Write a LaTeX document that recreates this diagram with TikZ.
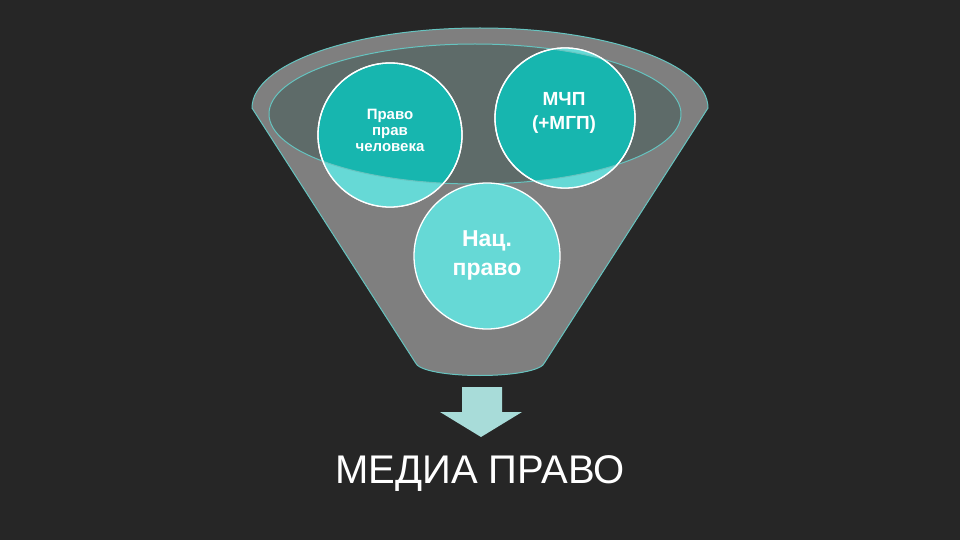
\documentclass[tikz,border=0pt]{standalone}
\usepackage{fontspec}
\setmainfont{Liberation Sans}
\begin{document}
\begin{tikzpicture}[x=1pt,y=-1pt,
  circ/.style={circle,fill=cd,draw=white,line width=1.3pt,minimum size=#1,inner sep=0pt},
  lbl/.style={text=white,align=center}]
\definecolor{bg}{HTML}{262626}
\definecolor{fun}{HTML}{7F7F7F}
\definecolor{rim}{HTML}{66C4C0}
\definecolor{cl}{HTML}{66D9D6}
\definecolor{cd}{HTML}{17B6AF}
\definecolor{inn}{HTML}{5E6B69}
\definecolor{arr}{HTML}{A8DCD9}
\fill[bg] (0,0) rectangle (960,540);
\useasboundingbox (0,0) rectangle (960,540);
% funnel body
\draw[fill=fun,draw=rim,line width=1pt] (252,108) arc[start angle=180,end angle=360,x radius=228,y radius=80]
  -- (545,362) .. controls (540,380) and (420,380) .. (415,362) -- cycle;
% inner ellipse
\fill[inn] (475,114) ellipse[x radius=206,y radius=70];
% circles
\node[circ=144pt] (l) at (390,135) {};
\node[circ=140pt] (r) at (565,118) {};
\begin{scope}[even odd rule]
\clip (0,0) rectangle (960,540) (475,114) ellipse[x radius=206,y radius=70];
\fill[cl] (l) circle[radius=72];
\fill[cl] (r) circle[radius=70];
\end{scope}
\draw[rim,line width=1pt] (475,114) ellipse[x radius=206,y radius=70];
\draw[white,line width=1.3pt] (l) circle[radius=72];
\draw[white,line width=1.3pt] (r) circle[radius=70];
\node[circ=146pt,fill=cl] (b) at (487,256) {};
% labels
\node[lbl,font=\bfseries\fontsize{15}{16}\selectfont] at (390,130) {Право\\прав\\человека};
\node[lbl,font=\bfseries\fontsize{19}{24}\selectfont] at (564,113) {МЧП\\(+МГП)};
\node[lbl,font=\bfseries\fontsize{23}{29}\selectfont] (bt) at (487,255) {Нац.\\право};
% arrow
\fill[arr] (462,387) -- (502,387) -- (502,412) -- (522,412) -- (481,437) -- (440,412) -- (462,412) -- cycle;
\node[text=white,font=\fontsize{40}{44}\selectfont] (m) at (480,474) {МЕДИА ПРАВО};
\end{tikzpicture}
\end{document}
